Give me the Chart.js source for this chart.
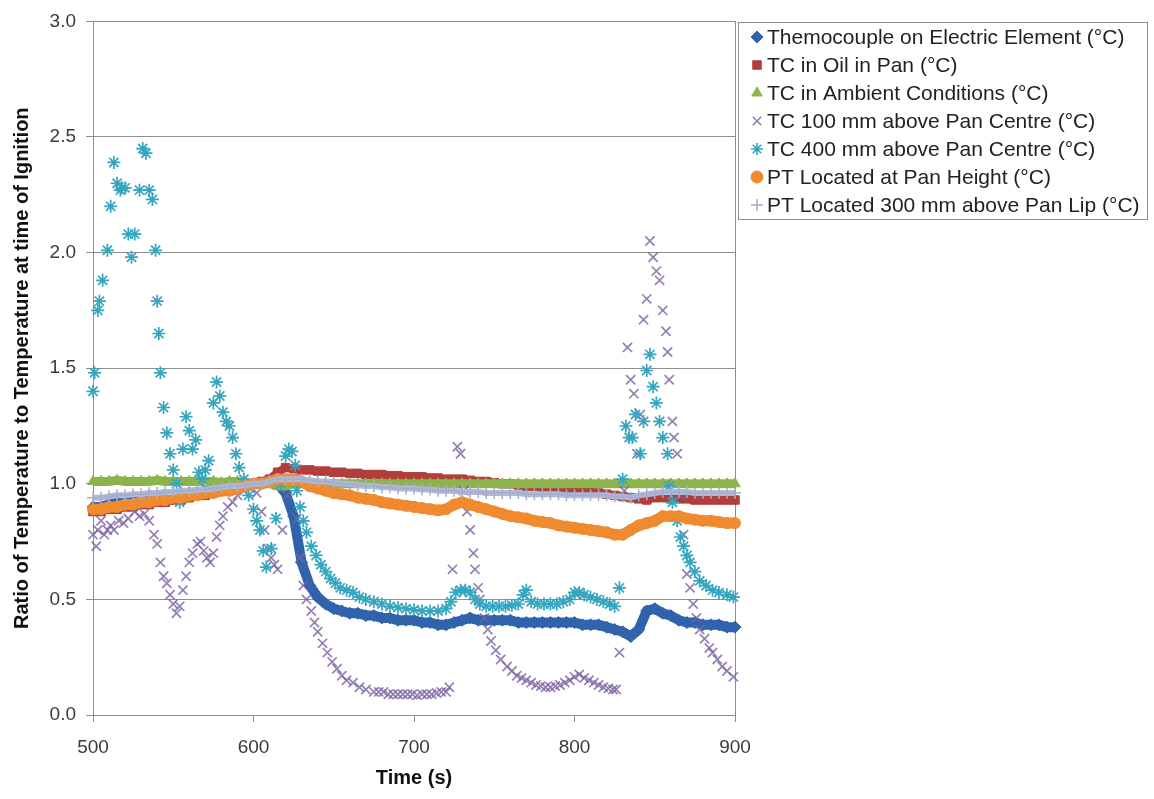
<!DOCTYPE html>
<html>
<head>
<meta charset="utf-8">
<script src="https://cdn.jsdelivr.net/npm/chart.js@4.4.1/dist/chart.umd.min.js"></script>
<style>
html, body { margin: 0; padding: 0; background: #fff; }
#wrap { width: 1154px; height: 799px; }
</style>
</head>
<body>
<div id="wrap"><canvas id="myChart" width="1154" height="799"></canvas></div>
<script>
// tiempos cada 5 s (series continuas)
var t5 = [500,505,510,515,520,525,530,535,540,545,
          550,555,560,565,570,575,580,585,590,595,
          600,605,610,615,620,625,630,635,640,645,
          650,655,660,665,670,675,680,685,690,695,
          700,705,710,715,720,725,730,735,740,745,
          750,755,760,765,770,775,780,785,790,795,
          800,805,810,815,820,825,830,835,840,845,
          850,855,860,865,870,875,880,885,890,895,
          900];

var elementVals = [0.90,0.90,0.91,0.92,0.92,0.93,0.93,0.94,0.94,0.95,
                   0.95,0.95,0.96,0.96,0.97,0.97,0.98,0.98,0.99,0.99,
                   1.00,1.00,1.01,1.00,0.96,0.86,0.66,0.56,0.51,0.48,
                   0.46,0.45,0.44,0.44,0.43,0.43,0.42,0.42,0.41,0.41,
                   0.41,0.40,0.40,0.39,0.39,0.40,0.41,0.42,0.41,0.41,
                   0.41,0.41,0.41,0.40,0.40,0.40,0.40,0.40,0.40,0.40,
                   0.40,0.39,0.39,0.39,0.38,0.37,0.36,0.34,0.37,0.45,
                   0.46,0.44,0.43,0.41,0.40,0.40,0.39,0.39,0.39,0.38,
                   0.38];

var oilVals = [0.88,0.88,0.89,0.89,0.90,0.90,0.91,0.91,0.92,0.92,
               0.93,0.93,0.94,0.95,0.95,0.96,0.97,0.97,0.98,0.99,
               1.00,1.01,1.02,1.05,1.07,1.065,1.06,1.06,1.055,1.055,
               1.05,1.05,1.045,1.045,1.04,1.04,1.04,1.035,1.035,1.03,
               1.03,1.03,1.025,1.025,1.02,1.02,1.02,1.015,1.01,1.01,
               1.005,1.00,1.00,0.995,0.99,0.99,0.985,0.98,0.98,0.975,
               0.97,0.97,0.965,0.96,0.955,0.95,0.945,0.94,0.935,0.93,
               0.94,0.94,0.935,0.935,0.935,0.93,0.93,0.93,0.93,0.93,
               0.93];

var ambientVals = [1.01,1.01,1.01,1.015,1.01,1.01,1.01,1.01,1.015,1.01,
                   1.01,1.01,1.01,1.01,1.01,1.01,1.005,1.01,1.01,1.005,
                   1.00,1.00,1.00,0.99,0.99,1.00,1.00,1.00,1.00,1.00,
                   1.00,1.00,1.00,1.00,1.00,1.00,1.00,1.00,1.00,1.00,
                   1.00,1.00,1.00,1.00,1.00,1.00,1.00,1.00,1.00,1.00,
                   1.00,1.00,1.00,1.00,1.00,1.00,1.00,1.00,1.00,1.00,
                   1.00,1.00,1.00,1.00,1.00,1.00,1.00,1.00,1.00,1.00,
                   1.00,1.00,1.00,1.00,1.00,1.00,1.00,1.00,1.00,1.00,
                   1.00];

var panHeightVals = [0.89,0.89,0.90,0.90,0.91,0.91,0.92,0.92,0.93,0.93,
                     0.94,0.94,0.95,0.95,0.96,0.96,0.97,0.97,0.98,0.99,
                     1.00,1.00,1.01,1.02,1.02,1.02,1.01,0.99,0.98,0.97,
                     0.96,0.955,0.95,0.94,0.935,0.93,0.92,0.915,0.91,0.905,
                     0.90,0.895,0.89,0.885,0.89,0.91,0.92,0.91,0.90,0.89,
                     0.88,0.87,0.86,0.855,0.85,0.84,0.835,0.83,0.82,0.815,
                     0.81,0.805,0.80,0.795,0.79,0.78,0.78,0.80,0.82,0.83,
                     0.84,0.86,0.86,0.86,0.85,0.845,0.84,0.84,0.835,0.83,
                     0.83];

var lipVals = [0.94,0.94,0.945,0.95,0.95,0.955,0.955,0.96,0.96,0.965,
               0.965,0.97,0.97,0.975,0.975,0.98,0.985,0.99,0.99,0.995,
               1.00,1.00,1.01,1.02,1.02,1.02,1.02,1.015,1.01,1.01,
               1.005,1.00,1.00,0.995,0.99,0.99,0.985,0.985,0.98,0.98,
               0.98,0.975,0.975,0.97,0.97,0.97,0.965,0.965,0.965,0.96,
               0.96,0.96,0.96,0.96,0.955,0.955,0.955,0.955,0.955,0.95,
               0.95,0.95,0.95,0.95,0.95,0.945,0.945,0.94,0.95,0.955,
               0.96,0.965,0.965,0.965,0.965,0.96,0.96,0.96,0.96,0.96,
               0.96];

// TC 100 mm (tiempos irregulares)
var tc100Time = [500,502,503,505,507,509,511,513,516,519,522,526,529,532,535,538,540,542,544,546,
                 548,550,552,554,556,558,560,562,565,567,569,571,573,575,577,579,581,584,587,590,
                 594,598,602,605,607,609,611,613,615,618,621,624,627,629,631,633,636,638,640,643,
                 646,649,652,655,658,662,666,670,675,678,681,684,687,690,693,696,699,702,705,708,
                 711,714,717,720,722,724,727,729,731,733,735,737,738,740,741,744,746,748,751,754,
                 758,761,764,767,770,773,776,779,782,785,788,791,794,797,800,803,806,809,812,815,
                 818,821,824,826,828,831,833,835,837,839,841,843,845,847,849,851,853,855,857,858,
                 859,861,862,864,866,868,870,872,874,876,878,881,884,886,889,892,895,899];
var tc100Vals = [0.78,0.73,0.80,0.84,0.78,0.80,0.82,0.80,0.84,0.83,0.85,0.88,0.86,0.87,0.84,0.78,0.74,0.66,0.60,0.57,
                 0.52,0.48,0.44,0.47,0.54,0.60,0.66,0.70,0.74,0.75,0.71,0.68,0.66,0.70,0.77,0.82,0.86,0.90,0.92,0.95,
                 0.97,0.98,0.96,0.88,0.80,0.72,0.68,0.65,0.63,0.80,0.95,1.02,0.85,0.68,0.56,0.50,0.45,0.40,0.36,0.31,
                 0.27,0.23,0.20,0.17,0.15,0.14,0.12,0.11,0.10,0.10,0.10,0.09,0.09,0.09,0.09,0.09,0.09,0.085,0.09,0.09,
                 0.09,0.095,0.10,0.10,0.12,0.63,1.16,1.13,0.97,0.88,0.80,0.70,0.63,0.55,0.50,0.42,0.37,0.32,0.28,0.24,
                 0.21,0.19,0.17,0.16,0.15,0.14,0.13,0.125,0.12,0.12,0.125,0.13,0.14,0.15,0.165,0.175,0.16,0.15,0.14,0.13,
                 0.12,0.115,0.11,0.11,0.27,0.97,1.59,1.45,1.39,1.13,1.30,1.71,1.80,2.05,1.98,1.92,1.88,1.75,1.66,1.57,
                 1.45,1.27,1.20,1.13,0.95,0.78,0.61,0.55,0.48,0.42,0.37,0.33,0.29,0.27,0.24,0.21,0.19,0.165];

// TC 400 mm (tiempos irregulares)
var tc400Time = [500,501,503,504,506,509,511,513,515,517,518,520,522,524,526,529,531,533,535,537,
                 539,540,541,542,544,546,548,550,552,554,556,558,560,562,564,566,568,570,572,575,
                 577,579,581,583,585,587,589,591,594,597,600,602,604,606,608,611,614,617,620,622,
                 624,626,627,629,631,633,636,639,642,645,648,651,654,658,662,666,670,675,680,685,
                 690,695,700,705,710,715,720,723,726,729,732,735,738,741,745,749,753,757,761,765,
                 768,770,773,777,781,785,789,793,797,800,803,806,810,814,818,822,825,828,830,832,
                 834,836,838,841,843,845,847,849,851,853,855,858,859,861,864,866,868,870,872,875,
                 878,882,886,890,895,899];
var tc400Vals = [1.40,1.48,1.75,1.79,1.88,2.01,2.20,2.39,2.30,2.27,2.28,2.28,2.08,1.98,2.08,2.27,2.45,2.43,2.27,2.23,
                 2.01,1.79,1.65,1.48,1.33,1.22,1.13,1.06,1.00,0.92,1.15,1.29,1.23,1.15,1.19,1.05,1.02,1.06,1.10,1.35,
                 1.44,1.38,1.31,1.27,1.25,1.20,1.13,1.07,1.02,0.95,0.89,0.84,0.80,0.71,0.64,0.72,0.85,1.00,1.12,1.15,
                 1.14,1.08,0.97,0.90,0.84,0.79,0.73,0.69,0.65,0.62,0.59,0.57,0.55,0.54,0.53,0.51,0.50,0.49,0.48,0.47,
                 0.465,0.46,0.455,0.45,0.45,0.45,0.46,0.49,0.53,0.54,0.54,0.53,0.50,0.48,0.47,0.47,0.47,0.47,0.475,0.48,
                 0.52,0.54,0.49,0.48,0.48,0.48,0.48,0.49,0.50,0.53,0.53,0.52,0.51,0.50,0.49,0.48,0.47,0.55,1.02,1.25,
                 1.20,1.20,1.30,1.13,1.27,1.49,1.56,1.42,1.35,1.27,1.20,1.13,0.99,0.92,0.84,0.77,0.73,0.69,0.66,0.62,
                 0.58,0.56,0.54,0.53,0.52,0.51];

var seriesNames = ['Themocouple on Electric Element (°C)', 'TC in Oil in Pan (°C)', 'TC in Ambient Conditions (°C)',
                   'TC 100 mm above Pan Centre (°C)', 'TC 400 mm above Pan Centre (°C)', 'PT Located at Pan Height (°C)',
                   'PT Located 300 mm above Pan Lip (°C)'];
var yTicks = [0, 0.5, 1.0, 1.5, 2.0, 2.5, 3.0];
var xTicks = [500, 600, 700, 800, 900];

function pts(xs, ys) {
      var out = [];
      for (var i = 0; i < xs.length; i++) out.push({ x: xs[i], y: ys[i] });
      return out;
}

var FONT = "'Liberation Sans', Arial, sans-serif";
var GRIS = '#8E8E8E';

function serie(idx, xs, ys, color, style, radius, lineW, bw, order, lineColor) {
      return {
            label: seriesNames[idx],
            data: pts(xs, ys),
            showLine: lineW > 0,
            borderColor: lineColor || color,
            backgroundColor: color,
            borderWidth: lineW,
            pointStyle: style,
            pointRadius: radius,
            pointBorderWidth: bw,
            pointBorderColor: color,
            pointBackgroundColor: color,
            pointHoverRadius: radius,
            tension: 0,
            clip: false,
            order: order
      };
}

var datasets = [
      serie(0, t5, elementVals, '#3163AD', 'rectRot', 6, 10, 1, 7),
      serie(1, t5, oilVals, '#B23E3A', 'rect', 6, 8, 1, 6),
      serie(2, t5, ambientVals, '#8DB34C', 'triangle', 6, 9, 1, 5),
      serie(3, tc100Time, tc100Vals, 'rgba(122,96,160,0.8)', 'crossRot', 6.5, 0, 1.7, 4),
      serie(4, tc400Time, tc400Vals, '#35A6C0', 'star', 6.5, 0, 1.7, 3),
      serie(5, t5, panHeightVals, '#EF8A2F', 'circle', 5.5, 11, 1, 2),
      serie(6, t5, lipVals, '#A3AED3', 'cross', 6, 6, 1.5, 1, '#B3B9D3')
];

// marco del area y leyenda
var marcoPlugin = {
      id: 'marco',
      beforeDatasetsDraw: function (chart) {
            var a = chart.chartArea, ctx = chart.ctx;
            ctx.save();
            ctx.strokeStyle = GRIS;
            ctx.lineWidth = 1;
            ctx.strokeRect(Math.round(a.left) + 0.5, Math.round(a.top) + 0.5,
                  Math.round(a.right - a.left), Math.round(a.bottom - a.top));
            ctx.restore();
      },
      afterDraw: function (chart) {
            var ctx = chart.ctx;
            var bx = 738, by = 22, bw = 409, bh = 197;
            ctx.save();
            ctx.fillStyle = '#fff';
            ctx.fillRect(bx, by, bw, bh);
            ctx.strokeStyle = GRIS;
            ctx.lineWidth = 1;
            ctx.strokeRect(bx + 0.5, by + 0.5, bw, bh);
            ctx.font = '21px ' + FONT;
            ctx.textBaseline = 'middle';
            ctx.textAlign = 'left';
            chart.data.datasets.forEach(function (ds, i) {
                  var y = 37 + i * 28;
                  ctx.strokeStyle = ds.pointBorderColor;
                  ctx.fillStyle = ds.pointBackgroundColor;
                  ctx.lineWidth = ds.pointBorderWidth;
                  Chart.helpers.drawPoint(ctx, {
                        pointStyle: ds.pointStyle,
                        radius: 6,
                        rotation: 0,
                        borderWidth: ds.pointBorderWidth
                  }, 757, y);
                  ctx.fillStyle = '#222';
                  ctx.fillText(ds.label, 767, y + 1);
            });
            ctx.restore();
      }
};

const ctx = document.getElementById('myChart').getContext('2d');
let myChart = new Chart(ctx, {
      type: 'scatter',
      data: { datasets: datasets },
      options: {
            responsive: false,
            animation: false,
            devicePixelRatio: 1,
            layout: { padding: { left: 0, top: 21, right: 419, bottom: 0 } },
            plugins: {
                  legend: { display: false },
                  tooltip: { enabled: false }
            },
            scales: {
                  x: {
                        type: 'linear',
                        min: 500,
                        max: 900,
                        afterFit: function (s) { s.height = 84; },
                        afterBuildTicks: function (s) { s.ticks = xTicks.map(function (v) { return { value: v }; }); },
                        ticks: {
                              padding: 14,
                              color: '#3a3a3a',
                              font: { family: FONT, size: 19 },
                              maxRotation: 0
                        },
                        grid: { drawOnChartArea: false, drawTicks: true, tickLength: 7, color: GRIS },
                        border: { display: true, color: GRIS },
                        title: {
                              display: true,
                              text: 'Time (s)',
                              color: '#111',
                              font: { family: FONT, size: 20, weight: 'bold' },
                              padding: { top: 0, bottom: 9 }
                        }
                  },
                  y: {
                        type: 'linear',
                        min: 0,
                        max: 3,
                        afterFit: function (s) { s.width = 93; },
                        afterBuildTicks: function (s) { s.ticks = yTicks.map(function (v) { return { value: v }; }); },
                        ticks: {
                              padding: 10,
                              color: '#3a3a3a',
                              font: { family: FONT, size: 19 },
                              callback: function (v) { return Number(v).toFixed(1); }
                        },
                        grid: { drawOnChartArea: true, drawTicks: true, tickLength: 7, color: GRIS },
                        border: { display: true, color: GRIS },
                        title: {
                              display: true,
                              text: 'Ratio of Temperature to Temperature at time of Ignition',
                              color: '#111',
                              font: { family: FONT, size: 20, weight: 'bold' },
                              padding: { top: 10, bottom: 0 }
                        }
                  }
            }
      },
      plugins: [marcoPlugin]
});
</script>
</body>
</html>
